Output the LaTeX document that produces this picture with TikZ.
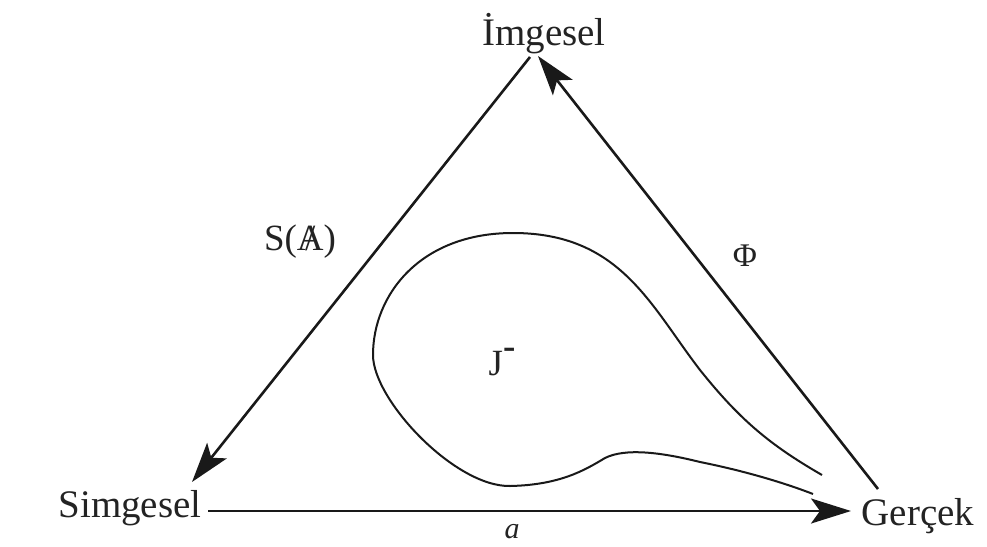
\documentclass[tikz,border=0pt]{standalone}
\usepackage{fontspec}
\setmainfont{Liberation Serif}
\usepackage{tikz}
\usetikzlibrary{
  arrows.meta,
  positioning,
  calc
}
\definecolor{inkcolor}{RGB}{25, 25, 25}
\definecolor{labelcolor}{RGB}{35, 35, 35}
\tikzset{
cornerlabel/.style={
  font=\fontsize{39}{44}\selectfont,
  text=labelcolor,
  inner sep=0pt,
  anchor=base
},
edgelabel/.style={
  font=\fontsize{37}{42}\selectfont,
  text=labelcolor,
  inner sep=0pt,
  anchor=base
},
arrow/.style={
  -{Stealth[length=40pt,width=25pt,inset=9pt]},
  line width=2.6pt,
  draw=inkcolor
},
loopline/.style={
  line width=2pt,
  draw=inkcolor
}
}

\begin{document}
\begin{tikzpicture}[x=1pt,y=-1pt]
  \useasboundingbox (0,0) rectangle (987,546);
  % corners
  \node[cornerlabel] (imgesel) at (544,45) {İmgesel};
  \node[cornerlabel] (simgesel) at (130,517) {Simgesel};
  \node[cornerlabel] (gercek) at (918,525) {Gerçek};
  \coordinate (topleft) at (530,57);
  \coordinate (topright) at (538,56);
  \coordinate (leftend) at (192,482);
  \coordinate (bottomstart) at (208,511);
  \coordinate (bottomend) at (851,511);
  \coordinate (rightstart) at (878,489);
  % edge labels
  \node[edgelabel] (sabar) at (300,250) {S(\ooalign{A\cr\hidewidth/\hidewidth})};
  \node[edgelabel, font=\fontsize{33}{38}\selectfont] (phi) at (745,266) {Φ};
  \node[edgelabel, font=\fontsize{30}{34}\selectfont] (aobj) at (512,538) {\textit{a}};
  \node[edgelabel] (jouis) at (502,375) {J\raisebox{0.45em}{\textbf{-}}};
  % arrows
  \draw[arrow] (topleft) -- (leftend);
  \draw[arrow] (rightstart) -- (topright);
  \draw[arrow] (bottomstart) -- (bottomend);
  % loop
  \draw[loopline] (822,475) .. controls (770,445) and (740,420) .. (700,370)
    .. controls (650,305) and (620,233) .. (513,233)
    .. controls (420,233) and (373,295) .. (373,355)
    .. controls (373,400) and (455,487) .. (510,486)
    .. controls (560,485) and (585,470) .. (605,458)
    .. controls (625,448) and (660,452) .. (700,462)
    .. controls (750,472) and (790,485) .. (813,494);
\end{tikzpicture}
\end{document}
